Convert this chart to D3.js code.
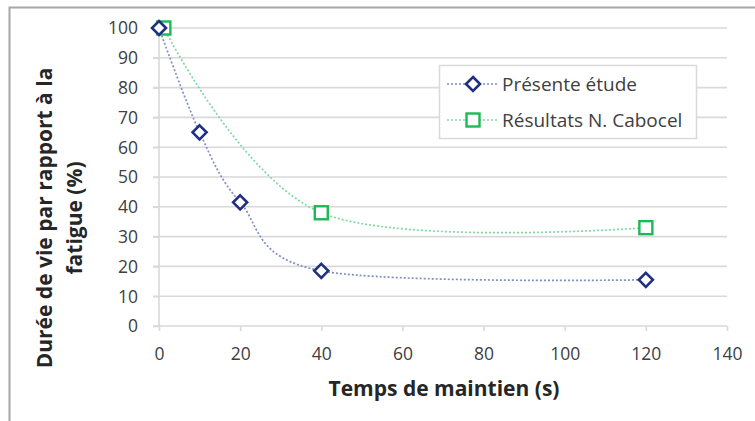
<!DOCTYPE html>
<html><head><meta charset="utf-8">
<script src="https://cdn.jsdelivr.net/npm/d3@7"></script>
<style>body{margin:0;background:#fff}svg{display:block}</style>
</head><body>
<svg id="c" width="755" height="421"></svg>
<script>
const seriesNames = ["Présente étude", "Résultats N. Cabocel"];
const etudeX = [0, 10, 20, 40, 120];
const etudeY = [100, 65, 41.5, 18.5, 15.5];
const caboX = [1.2, 40, 120];
const caboY = [100, 38, 33];
const xTicks = [0, 20, 40, 60, 80, 100, 120, 140];
const yTicks = [0, 10, 20, 30, 40, 50, 60, 70, 80, 90, 100];
const xTitle = "Temps de maintien (s)";
const yTitle = ["Durée de vie par rapport à la", "fatigue (%)"];

const svg = d3.select("#c");
const font = "'Open Sans', sans-serif";
const x = d3.scaleLinear().domain([0, 140]).range([159, 727]);
const y = d3.scaleLinear().domain([0, 100]).range([326, 28]);

// outer border (top & left visible)
svg.append("path").attr("d", "M9.5,800 V7.5 H800").attr("fill", "none").attr("stroke", "#a6a6a6").attr("stroke-width", 2);

// gridlines
svg.append("g").selectAll("line").data(yTicks.filter(d => d > 0)).join("line")
  .attr("x1", 153).attr("x2", x(140)).attr("y1", d => y(d)).attr("y2", d => y(d))
  .attr("stroke", "#d9d9d9").attr("stroke-width", 1.6);

// y axis
const ya = svg.append("g").attr("transform", `translate(${x(0)},0)`)
  .call(d3.axisLeft(y).tickValues(yTicks).tickSize(6).tickPadding(15));
ya.select(".domain").attr("stroke", "#d9d9d9").attr("stroke-width", 1.6).attr("d", `M0,${y(100)}V${y(0)}`);
ya.selectAll(".tick line").attr("stroke", "#d9d9d9").attr("stroke-width", 1.6);
ya.selectAll("text").attr("font-family", font).attr("font-size", 17.5).attr("fill", "#404040").attr("dy", "0.34em");

// x axis
const xa = svg.append("g").attr("transform", `translate(0,${y(0)})`)
  .call(d3.axisBottom(x).tickValues(xTicks).tickSize(5).tickPadding(17));
xa.select(".domain").attr("stroke", "#d9d9d9").attr("stroke-width", 1.6).attr("d", `M${x(0) - 6},0H${x(140)}`);
xa.selectAll(".tick line").attr("stroke", "#d9d9d9").attr("stroke-width", 1.6);
xa.selectAll("text").attr("font-family", font).attr("font-size", 17.5).attr("fill", "#404040");

// titles
svg.append("text").attr("x", 444).attr("y", 396).attr("text-anchor", "middle")
  .attr("font-family", font).attr("font-weight", "bold").attr("font-size", 21).attr("fill", "#262626").text(xTitle);
const yt = svg.append("text").attr("transform", "translate(52,218) rotate(-90)").attr("text-anchor", "middle")
  .attr("font-family", font).attr("font-weight", "bold").attr("font-size", 21).attr("fill", "#262626");
yt.selectAll("tspan").data(yTitle).join("tspan").attr("x", 0).attr("dy", (d, i) => i ? 30 : 0).text(d => d);

const line = d3.line().x(d => x(d[0])).y(d => y(d[1])).curve(d3.curveCardinal.tension(0));
const etude = etudeX.map((v, i) => [v, etudeY[i]]);
const cabo = caboX.map((v, i) => [v, caboY[i]]);

const blueLine = "#7f8fc4", blue = "#1f3080", greenLine = "#7fd9a3", green = "#1db954";

svg.append("path").attr("d", line(cabo)).attr("fill", "none").attr("stroke", greenLine)
  .attr("stroke-width", 1.7).attr("stroke-dasharray", "2,2");
svg.append("path").attr("d", line(etude)).attr("fill", "none").attr("stroke", blueLine)
  .attr("stroke-width", 1.7).attr("stroke-dasharray", "2,2");

const diamond = (g) => g.append("path").attr("d", "M0,-7L7,0L0,7L-7,0Z").attr("fill", "#fff").attr("stroke", blue).attr("stroke-width", 2.6);
const square = (g) => g.append("rect").attr("x", -6.5).attr("y", -6.5).attr("width", 13).attr("height", 13).attr("fill", "#fff").attr("stroke", green).attr("stroke-width", 2.4);

svg.append("g").selectAll("g").data(cabo).join("g").attr("transform", d => `translate(${x(d[0])},${y(d[1])})`).call(square);
svg.append("g").selectAll("g").data(etude).join("g").attr("transform", d => `translate(${x(d[0])},${y(d[1])})`).call(diamond);

// legend
const lg = svg.append("g");
lg.append("rect").attr("x", 439.5).attr("y", 65.5).attr("width", 257).attr("height", 73)
  .attr("fill", "#fff").attr("stroke", "#d9d9d9").attr("stroke-width", 1.5);
const rows = [{name: seriesNames[0], c: blueLine, m: diamond, yy: 84}, {name: seriesNames[1], c: greenLine, m: square, yy: 120}];
rows.forEach(r => {
  lg.append("line").attr("x1", 447).attr("x2", 497).attr("y1", r.yy).attr("y2", r.yy)
    .attr("stroke", r.c).attr("stroke-width", 1.7).attr("stroke-dasharray", "2,2");
  r.m(lg.append("g").attr("transform", `translate(473,${r.yy})`));
  lg.append("text").attr("x", 502).attr("y", r.yy + 6.5).attr("font-family", font).attr("font-size", 19)
    .attr("fill", "#404040").text(r.name);
});
</script>
</body></html>
